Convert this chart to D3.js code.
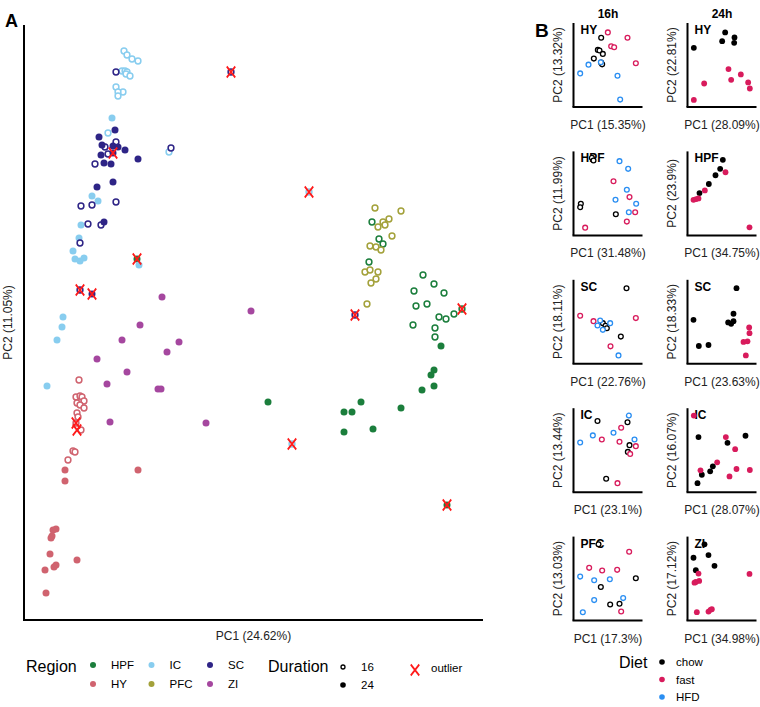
<!DOCTYPE html>
<html><head><meta charset="utf-8">
<script src="https://cdn.jsdelivr.net/npm/d3@7"></script>
<style>body{margin:0;background:#fff}svg{font-family:"Liberation Sans",Arial,sans-serif}</style>
</head><body><svg id="c" width="760" height="707"></svg>
<script>
// ---------- Panel A data (PC1, PC2 scores) ----------
const regions = ["HPF","HY","IC","PFC","SC","ZI"];
const regionColors = ["#1b7e3c","#d0636f","#88cdef","#a3a13a","#2e2486","#a5479f"];
const durations = ["16","24"];

const HPF_16 = [[12.2,10.8],[12.9,9.1],[13.3,8.6],[11.9,6.8],[17.3,5.5],[18.4,4.6],[16.4,3.9],[19.4,3.7],[16.6,2.4],[17.7,2.6],[18.9,1.3],[19.6,1.1],[20.4,1.6],[16.3,0.5],[18.5,0.2],[18.5,-0.7],[21.2,2.1]];
const HPF_24 = [[1.8,-7.2],[19.1,-1.6],[18.4,-4.0],[18.1,-4.5],[18.4,-5.6],[17.2,-6.0],[11.1,-7.2],[9.4,-8.2],[10.2,-8.2],[15.1,-7.8],[9.4,-10.2],[12.3,-9.9],[19.7,-17.5],[-11.3,7.1]];
const HY_16 = [[-17.1,-5.0],[-17.4,-6.7],[-17.0,-6.6],[-16.8,-6.7],[-16.6,-7.1],[-17.3,-7.3],[-17.0,-7.5],[-16.6,-7.8],[-17.3,-8.3],[-17.2,-8.7],[-16.9,-10.0],[-17.7,-12.1],[-17.5,-12.2],[-18.2,-13.0],[-17.4,-9.3]];
const HY_24 = [[-18.5,-14.0],[-18.5,-15.1],[-11.2,-14.0],[-19.7,-20.0],[-19.4,-19.9],[-19.8,-20.6],[-19.9,-20.8],[-20.0,-22.4],[-17.3,-23.0],[-19.6,-23.7],[-19.4,-23.5],[-20.5,-24.0],[-20.4,-26.3]];
const IC_16 = [[-12.6,27.9],[-12.3,27.5],[-11.8,27.1],[-11.2,26.9],[-12.8,25.9],[-12.5,25.9],[-12.3,25.8],[-12.4,25.6],[-12.0,25.4],[-13.4,24.3],[-12.7,23.8],[-13.2,23.8],[-13.2,23.4],[-14.2,19.7],[-8.1,17.8],[5.9,13.8],[4.2,-11.4]];
const IC_24 = [[-13.8,21.2],[-15.8,13.4],[-15.2,12.9],[-16.9,10.5],[-17.1,9.2],[-17.7,7.9],[-17.5,7.1],[-17.0,6.9],[-16.6,7.2],[-11.1,6.5],[-18.7,1.3],[-18.8,0.3],[-19.3,-1.0],[-20.3,-5.6]];
const PFC_16 = [[12.5,12.2],[15.1,11.9],[13.3,10.8],[13.9,11.1],[12.8,10.3],[13.5,10.5],[14.2,9.4],[12.0,8.4],[12.6,8.3],[13.1,8.0],[11.5,5.8],[12.0,6.0],[12.8,5.8],[12.6,5.1],[12.1,4.7],[11.7,2.6]];
const PFC_24 = [];
const SC_16 = [[-13.4,25.8],[-13.4,18.8],[-14.5,18.3],[-14.2,17.6],[-15.5,16.6],[-13.4,12.8],[-16.9,12.4],[-15.8,12.5],[-16.2,10.6],[-14.9,10.5],[-17.0,8.7],[-7.9,18.2],[-1.9,25.8],[-17.0,4.0],[10.5,1.5]];
const SC_24 = [[-13.5,20.0],[-15.1,19.3],[-14.8,18.5],[-13.7,18.4],[-13.2,18.3],[-12.5,18.0],[-14.9,17.5],[-14.6,16.7],[-13.9,16.6],[-11.2,17.1],[-13.7,14.8],[-15.3,14.3],[-14.6,10.8],[-15.8,3.6],[-13.7,17.7]];
const ZI_16 = [];
const ZI_24 = [[-8.8,3.3],[0.1,1.9],[-11.0,0.5],[-12.8,-1.0],[-7.1,-1.2],[-8.3,-2.2],[-15.3,-2.9],[-12.3,-4.2],[-14.3,-5.4],[-9.2,-5.9],[-8.9,-5.9],[-14.0,-9.2],[-4.4,-9.3]];
const outliers = [[-1.9,25.8],[-13.7,17.7],[-11.3,7.1],[-17.0,4.0],[-15.8,3.6],[5.9,13.8],[10.5,1.5],[21.2,2.1],[4.2,-11.4],[19.7,-17.5],[-17.4,-9.3],[-17.3,-10.0]];
const pc1LabelA = "PC1 (24.62%)", pc2LabelA = "PC2 (11.05%)";

// ---------- Panel B data (per region, duration, diet) ----------
const diets = ["chow","fast","HFD"];
const dietColors = ["#000000","#d81b5c","#2a8ef2"];
const bRegions = ["HY","HPF","SC","IC","PFC"];
const bRegions24 = ["HY","HPF","SC","IC","ZI"];
const pc1_16 = ["15.35","31.48","22.76","23.1","17.3"];
const pc2_16 = ["13.32","11.99","18.11","13.44","13.03"];
const pc1_24 = ["28.09","34.75","23.63","28.07","34.98"];
const pc2_24 = ["22.81","23.9","18.33","16.07","17.12"];

const HY16_chow = [[8.3,20.6],[7.3,17.0],[7.8,16.8],[8.8,15.8],[6.1,14.4],[8.3,13.2],[8.6,12.7]];
const HY16_fast = [[10.3,22.2],[16.2,20.6],[11.3,18.1],[12.2,17.8],[18.7,13.0]];
const HY16_HFD = [[8.2,13.3],[4.5,12.6],[2.0,10.0],[13.2,9.3],[14.0,2.2]];
const HY24_chow = [[1.9,17.6],[11.3,22.2],[10.4,19.6],[14.1,20.7],[14.0,19.1]];
const HY24_fast = [[12.3,11.3],[16.0,9.7],[13.1,8.1],[18.2,7.3],[18.7,5.5],[5.0,7.0],[1.9,2.1]];
const HPF16_chow = [[5.5,23.1],[6.0,22.3],[2.2,9.4],[2.0,8.4],[12.7,6.3]];
const HPF16_fast = [[12.0,16.1],[16.8,11.4],[18.5,6.9],[16.0,4.1],[3.5,2.3]];
const HPF16_HFD = [[13.8,22.1],[16.4,19.8],[16.0,13.6],[12.6,10.6],[18.8,9.4],[16.6,6.9]];
const HPF24_chow = [[10.6,22.5],[9.8,19.8],[8.4,17.9],[6.4,15.3],[3.6,12.6]];
const HPF24_fast = [[11.4,18.8],[5.2,13.4],[3.3,11.0],[2.6,10.8],[1.8,10.6],[18.6,2.4]];
const SC16_chow = [[15.9,22.5],[8.8,12.1],[9.6,11.3],[10.0,10.6],[14.2,8.1]];
const SC16_fast = [[2.0,14.3],[6.0,12.7],[18.7,13.6],[11.1,5.2]];
const SC16_HFD = [[8.0,12.9],[11.0,12.1],[7.2,11.4],[8.8,10.1],[13.5,2.5]];
const SC24_chow = [[14.7,22.5],[1.8,13.1],[13.8,14.9],[12.2,12.3],[13.1,11.9],[13.8,12.7],[3.4,5.3],[6.3,5.6]];
const SC24_fast = [[18.5,10.8],[18.6,9.1],[18.0,6.7],[16.8,6.5],[17.5,2.5]];
const IC16_chow = [[7.2,21.2],[16.2,20.8],[16.8,14.0],[16.3,12.0],[9.8,4.0]];
const IC16_fast = [[14.3,19.2],[8.5,15.7],[13.8,15.0],[18.7,13.7],[17.0,11.4],[13.2,2.7]];
const IC16_HFD = [[16.6,22.8],[12.0,17.7],[5.8,16.9],[2.0,14.8],[18.3,15.7]];
const IC24_chow = [[3.3,16.4],[12.0,14.7],[17.4,16.8],[7.6,7.7],[6.8,6.2],[4.3,5.2],[3.0,2.7]];
const IC24_fast = [[1.9,22.8],[11.5,16.4],[14.3,12.8],[8.9,8.9],[3.9,6.5],[14.7,6.9],[18.7,6.6],[12.6,4.7]];
const PFC16_chow = [[7.5,22.7],[8.2,10.0],[11.0,4.8],[13.8,5.0],[18.7,12.6]];
const PFC16_fast = [[16.7,20.5],[4.7,15.7],[8.6,14.9],[13.1,15.1],[14.3,2.7]];
const PFC16_HFD = [[2.0,13.1],[6.2,12.0],[10.9,12.3],[6.2,6.1],[14.9,6.7],[2.8,2.5]];
const ZI24_chow = [[5.1,22.7],[1.8,18.7],[6.3,19.5],[8.1,16.3],[2.5,15.0]];
const ZI24_fast = [[3.3,14.0],[3.5,11.8],[2.5,11.5],[2.1,11.3],[18.6,13.9],[2.8,2.5],[6.3,2.7],[6.9,3.2],[7.3,3.4]];

const panels16 = [
  [HY16_chow,HY16_fast,HY16_HFD],[HPF16_chow,HPF16_fast,HPF16_HFD],[SC16_chow,SC16_fast,SC16_HFD],
  [IC16_chow,IC16_fast,IC16_HFD],[PFC16_chow,PFC16_fast,PFC16_HFD]];
const panels24 = [
  [HY24_chow,HY24_fast,[]],[HPF24_chow,HPF24_fast,[]],[SC24_chow,SC24_fast,[]],
  [IC24_chow,IC24_fast,[]],[ZI24_chow,ZI24_fast,[]]];

// ---------- Drawing ----------
const svg = d3.select("#c");
const colorScale = d3.scaleOrdinal().domain(regions).range(regionColors);

// Panel A
const ax = {left:24, right:483, top:25, bottom:620};
const x = d3.scaleLinear().domain([-22.6,23.3]).range([ax.left, ax.right]);
const y = d3.scaleLinear().domain([-29.0,30.5]).range([ax.bottom, ax.top]);
const gA = svg.append("g");
gA.append("line").attr("x1",ax.left).attr("x2",ax.left).attr("y1",ax.top).attr("y2",ax.bottom).attr("stroke","#000").attr("stroke-width",2);
gA.append("line").attr("x1",ax.left-1).attr("x2",ax.right).attr("y1",ax.bottom).attr("y2",ax.bottom).attr("stroke","#000").attr("stroke-width",2);

const regionData = {HPF:[HPF_16,HPF_24],HY:[HY_16,HY_24],IC:[IC_16,IC_24],PFC:[PFC_16,PFC_24],SC:[SC_16,SC_24],ZI:[ZI_16,ZI_24]};
const ptsA = [];
regions.forEach(r=>{
  regionData[r][0].forEach(p=>ptsA.push({r,dur:"16",x:p[0],y:p[1]}));
  regionData[r][1].forEach(p=>ptsA.push({r,dur:"24",x:p[0],y:p[1]}));
});
gA.selectAll("circle.a").data(ptsA).join("circle")
  .attr("cx",d=>x(d.x)).attr("cy",d=>y(d.y))
  .attr("r",d=>d.dur==="16"?2.9:3.5)
  .attr("fill",d=>d.dur==="16"?"#fff":colorScale(d.r))
  .attr("stroke",d=>colorScale(d.r))
  .attr("stroke-width",d=>d.dur==="16"?1.5:0);

const xSym = d3.symbol().type(d3.symbolX).size(60);
gA.selectAll("path.o").data(outliers).join("path")
  .attr("d",xSym).attr("transform",d=>`translate(${x(d[0])},${y(d[1])}) scale(0.9,1.15)`)
  .attr("stroke","#ff1a1a").attr("stroke-width",1.9).attr("fill","none");

gA.append("text").attr("x",(ax.left+ax.right)/2).attr("y",640).attr("text-anchor","middle").attr("font-size",12).attr("fill","#222").text(pc1LabelA);
gA.append("text").attr("transform",`translate(12,${(ax.top+ax.bottom)/2}) rotate(-90)`).attr("text-anchor","middle").attr("font-size",12).attr("fill","#222").text(pc2LabelA);
svg.append("text").attr("x",5).attr("y",27).attr("font-size",18).attr("font-weight","bold").text("A");

// Legend A
const lg = svg.append("g");
lg.append("text").attr("x",26).attr("y",672).attr("font-size",16).text("Region");
regions.forEach((r,i)=>{
  const col = Math.floor(i/2), row = i%2;
  const cx = 93 + col*58.5, cy = 665 + row*19;
  lg.append("circle").attr("cx",cx).attr("cy",cy).attr("r",3).attr("fill",regionColors[i]);
  lg.append("text").attr("x",cx+18).attr("y",cy+4).attr("font-size",11.5).text(r);
});
lg.append("text").attr("x",268).attr("y",672).attr("font-size",16).text("Duration");
durations.forEach((dr,i)=>{
  const cy = 667 + i*18;
  lg.append("circle").attr("cx",343).attr("cy",cy).attr("r",dr==="16"?2:2.8)
    .attr("fill",dr==="16"?"#fff":"#000").attr("stroke","#000").attr("stroke-width",dr==="16"?1.3:0);
  lg.append("text").attr("x",361).attr("y",cy+4).attr("font-size",11.5).text(dr);
});
lg.append("path").attr("d",xSym).attr("transform","translate(415,670) scale(0.9,1.15)").attr("stroke","#ff1a1a").attr("stroke-width",1.9).attr("fill","none");
lg.append("text").attr("x",431).attr("y",672).attr("font-size",11.5).text("outlier");

// Panel B
svg.append("text").attr("x",535).attr("y",37).attr("font-size",19).attr("font-weight","bold").text("B");
const colLeft = [573.5, 687.5];
const pw = 69, ph = 84, top0 = 23, step = 128.4;
const headers = ["16h","24h"];
headers.forEach((h,ci)=>svg.append("text").attr("x",colLeft[ci]+pw/2).attr("y",18).attr("text-anchor","middle").attr("font-size",12).attr("font-weight","bold").text(h));
const bx = d3.scaleLinear().domain([0,20.7]).range([0,pw]);
const by = d3.scaleLinear().domain([0,25]).range([ph,0]);

function drawPanel(ci, ri, sets, title, pc1, pc2){
  const g = svg.append("g").attr("transform",`translate(${colLeft[ci]},${top0+ri*step})`);
  g.append("line").attr("x1",0).attr("x2",0).attr("y1",0).attr("y2",ph).attr("stroke","#000").attr("stroke-width",2);
  g.append("line").attr("x1",-1).attr("x2",pw).attr("y1",ph).attr("y2",ph).attr("stroke","#000").attr("stroke-width",2);
  g.append("text").attr("x",7).attr("y",11).attr("font-size",12).attr("font-weight","bold").text(title);
  const pts = [];
  sets.forEach((s,di)=>s.forEach(p=>pts.push({di,x:p[0],y:p[1]})));
  const open = ci===0;
  g.selectAll("circle").data(pts).join("circle")
    .attr("cx",d=>bx(d.x)).attr("cy",d=>by(d.y))
    .attr("r",open?2.4:2.9)
    .attr("fill",d=>open?"#fff":dietColors[d.di])
    .attr("stroke",d=>dietColors[d.di])
    .attr("stroke-width",open?1.3:0);
  g.append("text").attr("x",pw/2).attr("y",ph+22).attr("text-anchor","middle").attr("font-size",12).attr("fill","#222").text(`PC1 (${pc1}%)`);
  g.append("text").attr("transform",`translate(-12,${ph/2}) rotate(-90)`).attr("text-anchor","middle").attr("font-size",12).attr("fill","#222").text(`PC2 (${pc2}%)`);
}
panels16.forEach((sets,ri)=>drawPanel(0,ri,sets,bRegions[ri],pc1_16[ri],pc2_16[ri]));
panels24.forEach((sets,ri)=>drawPanel(1,ri,sets,bRegions24[ri],pc1_24[ri],pc2_24[ri]));

// Legend B
const lb = svg.append("g");
lb.append("text").attr("x",619).attr("y",668).attr("font-size",16).text("Diet");
diets.forEach((d,i)=>{
  const cy = 662 + i*17.5;
  lb.append("circle").attr("cx",662).attr("cy",cy).attr("r",2.8).attr("fill",dietColors[i]);
  lb.append("text").attr("x",676).attr("y",cy+4).attr("font-size",11.5).text(d);
});
</script></body></html>
